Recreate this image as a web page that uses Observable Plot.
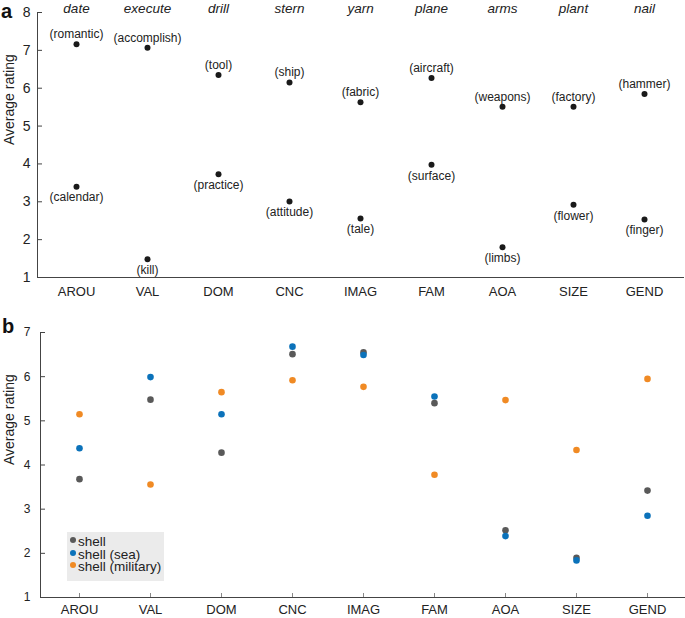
<!DOCTYPE html>
<html>
<head>
<meta charset="utf-8">
<script src="https://cdn.jsdelivr.net/npm/d3@7"></script>
<script src="https://cdn.jsdelivr.net/npm/@observablehq/plot@0.6"></script>
<style>
  body { margin: 0; background: white; font-family: "Liberation Sans", Arial, sans-serif; }
  #wrap { position: relative; width: 685px; height: 618px; }
  #wrap svg { display: block; }
  .plabel { position: absolute; font-weight: bold; font-size: 20px; line-height: 22px; color: #111; }
  #legend { position: absolute; left: 67px; top: 532px; width: 97px; height: 49px; background: #ebebeb; }
  .li { position: absolute; left: 0; font-size: 13.5px; line-height: 13px; height: 13px; color: #222; white-space: nowrap; }
  .li span.d { display: inline-block; width: 6px; height: 6px; border-radius: 50%; margin: 0 2px 0 3px; vertical-align: 3px; }
</style>
</head>
<body>
<div id="wrap"></div>
<script>
// ---- data ----
const categories = ["AROU", "VAL", "DOM", "CNC", "IMAG", "FAM", "AOA", "SIZE", "GEND"];
const words = ["date", "execute", "drill", "stern", "yarn", "plane", "arms", "plant", "nail"];
const highSense = ["romantic", "accomplish", "tool", "ship", "fabric", "aircraft", "weapons", "factory", "hammer"];
const highValue = [7.16, 7.07, 6.35, 6.15, 5.63, 6.27, 5.51, 5.51, 5.85];
const lowSense = ["calendar", "kill", "practice", "attitude", "tale", "surface", "limbs", "flower", "finger"];
const lowValue = [3.40, 1.48, 3.73, 3.01, 2.56, 3.98, 1.80, 2.92, 2.53];

const seriesNames = ["shell", "shell (sea)", "shell (military)"];
const shellValue = [3.68, 5.48, 4.28, 6.51, 6.55, 5.40, 2.52, 1.90, 3.42];
const seaValue = [4.38, 5.99, 5.15, 6.68, 6.49, 5.55, 2.39, 1.84, 2.85];
const militaryValue = [5.15, 3.56, 5.65, 5.92, 5.77, 3.78, 5.47, 4.34, 5.95];
const seriesColors = ["#595959", "#0b72ba", "#f08a24"];

const yTicksA = [1, 2, 3, 4, 5, 6, 7, 8];
const yTicksB = [1, 2, 3, 4, 5, 6, 7];

// ---- tables ----
const highRows = categories.map((c, i) => ({cat: c, v: highValue[i], label: "(" + highSense[i] + ")"}));
const lowRows = categories.map((c, i) => ({cat: c, v: lowValue[i], label: "(" + lowSense[i] + ")"}));
const seriesValues = [shellValue, seaValue, militaryValue];
const bRows = [];
seriesNames.forEach((s, k) => categories.forEach((c, i) => bRows.push({cat: c, v: seriesValues[k][i], series: s})));

const font = "Liberation Sans, Arial, sans-serif";
const wrap = document.getElementById("wrap");

const plotA = Plot.plot({
  width: 685, height: 305,
  marginTop: 12, marginBottom: 28, marginLeft: 37, marginRight: 2,
  style: {fontFamily: font, color: "#222", background: "white", overflow: "visible"},
  x: {type: "point", domain: categories, padding: 0.5, label: null},
  y: {domain: [1, 8], label: null},
  marks: [
    Plot.axisY({ticks: yTicksA, tickFormat: d => String(d), tickSize: -5, tickPadding: 12, fontSize: 14, stroke: "#444", label: null}),
    Plot.axisX({tickSize: 0, tickPadding: 9, fontSize: 13, label: null}),
    Plot.frame({anchor: "left", stroke: "#444"}),
    Plot.frame({anchor: "bottom", stroke: "#444"}),
    Plot.text(categories, {x: d => d, text: (d, i) => words[i], frameAnchor: "top", dy: -9, fontStyle: "italic", fontSize: 13.5}),
    Plot.text(["Average rating"], {frameAnchor: "left", rotate: -90, dx: -28, fontSize: 14}),
    Plot.dot(highRows, {x: "cat", y: "v", r: 3, fill: "#1a1a1a"}),
    Plot.dot(lowRows, {x: "cat", y: "v", r: 3, fill: "#1a1a1a"}),
    Plot.text(highRows, {x: "cat", y: "v", text: "label", dy: -10, fontSize: 12}),
    Plot.text(lowRows, {x: "cat", y: "v", text: "label", dy: 11, fontSize: 12})
  ]
});

const plotB = Plot.plot({
  width: 685, height: 313,
  marginTop: 27, marginBottom: 21, marginLeft: 40, marginRight: 0,
  style: {fontFamily: font, color: "#222", background: "white", overflow: "visible"},
  x: {type: "point", domain: categories, padding: 0.5, label: null},
  y: {domain: [1, 7], label: null},
  color: {domain: seriesNames, range: seriesColors},
  marks: [
    Plot.axisY({ticks: yTicksB, tickFormat: d => String(d), tickSize: -5, tickPadding: 15, fontSize: 12, stroke: "#444", label: null}),
    Plot.axisX({tickSize: -4, tickPadding: 11, fontSize: 13, stroke: "#888", label: null}),
    Plot.frame({anchor: "left", stroke: "#444"}),
    Plot.frame({anchor: "bottom", stroke: "#444"}),
    Plot.text(["Average rating"], {frameAnchor: "left", rotate: -90, dx: -31, fontSize: 14}),
    Plot.dot(bRows, {x: "cat", y: "v", r: 3.3, fill: "series"})
  ]
});

wrap.appendChild(plotA);
wrap.appendChild(plotB);

function addLabel(t, left, top) {
  const d = document.createElement("div");
  d.className = "plabel"; d.textContent = t;
  d.style.left = left + "px"; d.style.top = top + "px";
  wrap.appendChild(d);
}
addLabel("a", 1, 0);
addLabel("b", 2, 315);

const leg = document.createElement("div");
leg.id = "legend";
seriesNames.forEach((s, k) => {
  const it = document.createElement("div");
  it.className = "li";
  it.style.top = (3 + k * 12.5) + "px";
  const dot = document.createElement("span");
  dot.className = "d"; dot.style.background = seriesColors[k];
  it.appendChild(dot);
  it.appendChild(document.createTextNode(s));
  leg.appendChild(it);
});
wrap.appendChild(leg);
</script>
</body>
</html>
